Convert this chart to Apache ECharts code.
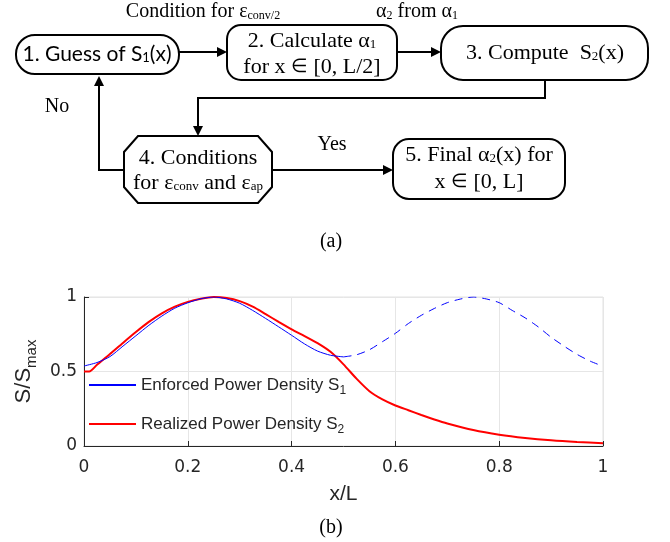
<!DOCTYPE html>
<html>
<head>
<meta charset="utf-8">
<script src="https://cdn.jsdelivr.net/npm/echarts@6/dist/echarts.min.js"></script>
<style>
html,body{margin:0;padding:0;background:#fff;}
#chart{width:670px;height:542px;}
</style>
</head>
<body>
<div id="chart"></div>
<script>
// S1: enforced power density (solid up to x/L = 0.5, dashed after)
var xS1 = [0,0.025,0.05,0.075,0.1,0.125,0.15,0.175,0.2,0.225,0.25,0.275,0.3,0.325,0.35,0.375,0.4,0.425,0.45,0.475,0.5,
           0.525,0.55,0.575,0.6,0.625,0.65,0.675,0.7,0.725,0.75,0.775,0.8,0.825,0.85,0.875,0.9,0.925,0.95,0.975,1];
var s1 = [0.537,0.56,0.60,0.67,0.74,0.81,0.872,0.925,0.961,0.988,1.0,0.987,0.958,0.91,0.856,0.80,0.743,0.685,0.637,0.609,0.598,
          0.612,0.646,0.70,0.756,0.822,0.877,0.923,0.962,0.986,1.0,0.987,0.962,0.91,0.86,0.80,0.73,0.67,0.615,0.57,0.535];
// S2: realized power density
var xS2 = [0,0.01,0.025,0.05,0.075,0.1,0.125,0.15,0.175,0.2,0.225,0.25,0.275,0.3,0.325,0.35,0.375,0.4,0.425,0.45,
           0.475,0.5,0.525,0.55,0.575,0.6,0.625,0.65,0.675,0.7,0.75,0.8,0.85,0.9,0.95,1];
var s2 = [0.5,0.5,0.545,0.617,0.692,0.765,0.833,0.89,0.935,0.967,0.988,1.0,0.993,0.972,0.935,0.885,0.833,0.783,0.738,0.69,
          0.632,0.548,0.452,0.368,0.313,0.272,0.24,0.208,0.178,0.151,0.107,0.076,0.054,0.038,0.027,0.019];
var splitX = 0.5;
var xTickStep = 0.2;
var yTickStep = 0.5;
var legendNames = ['Enforced Power Density S1', 'Realized Power Density S2'];
var legendMain = ['Enforced Power Density S', 'Realized Power Density S'];
var legendSub = ['1', '2'];

var ink = '#262626';
var serif = 'Liberation Serif';

function pairs(xs, ys, from, to) {
	var out = [];
	for (var i = 0; i < xs.length; i++) {
		if (xs[i] >= from && xs[i] <= to) out.push([xs[i], ys[i]]);
	}
	return out;
}

// ---- flowchart helpers ----
var g = [];
function box(x, y, w, h, r) {
	g.push({type:'rect', shape:{x:x, y:y, width:w, height:h, r:r},
		style:{fill:'#fff', stroke:'#000', lineWidth:2}});
}
function line(pts) {
	g.push({type:'polyline', shape:{points:pts}, style:{stroke:'#000', lineWidth:2, fill:null}});
}
function head(x, y, dir) {
	var p;
	if (dir == 'r') p = [[x,y],[x-10,y-5],[x-10,y+5]];
	else if (dir == 'd') p = [[x,y],[x-5,y-10],[x+5,y-10]];
	else p = [[x,y],[x-5,y+10],[x+5,y+10]];
	g.push({type:'polygon', shape:{points:p}, style:{fill:'#000'}});
}
var richSerif = {
	t:{fontFamily:serif, fontSize:22, lineHeight:26, textFill:'#000'},
	e:{fontFamily:serif, fontSize:19, lineHeight:26, textFill:'#000'},
	b:{fontFamily:serif, fontSize:13, lineHeight:26, padding:[7,0,0,0], textFill:'#000'},
	c:{fontFamily:serif, fontSize:20, lineHeight:24, textFill:'#000'},
	d:{fontFamily:serif, fontSize:12, lineHeight:24, padding:[7,0,0,0], textFill:'#000'},
	s:{fontFamily:'Lato', fontSize:21, lineHeight:26, textFill:'#000'},
	q:{fontFamily:'Lato', fontSize:13, lineHeight:26, padding:[7,0,0,0], textFill:'#000'}
};
function txt(x, y, s) {
	g.push({type:'text', style:{text:s, x:x, y:y, rich:richSerif, textAlign:'center', textVerticalAlign:'middle'}});
}

// boxes
box(16, 35, 163, 39, 19);
box(227, 25, 170, 55, 14);
box(441, 26, 207, 54, 22);
g.push({type:'polygon', shape:{points:[[138,136],[258,136],[272,152],[272,187],[258,203],[138,203],[124,187],[124,152]]},
	style:{fill:'#fff', stroke:'#000', lineWidth:2}});
box(393, 139, 172, 60, 16);

// connectors
line([[179,52],[218,52]]); head(227,52,'r');
line([[397,52],[432,52]]); head(441,52,'r');
line([[545,80],[545,98],[198,98],[198,127]]); head(198,136,'d');
line([[124,170],[99,170],[99,84]]); head(99,76,'u');
line([[272,170],[384,170]]); head(393,170,'r');

// texts
txt(97, 54, '{s|1. Guess of S}{q|1}{s|(x)}');
txt(312, 41, '{t|2. Calculate α}{b|1}');
txt(312, 67, '{t|for x }{e|∈}{t| [0, L/2]}');
txt(545, 53, '{t|3. Compute  S}{b|2}{t|(x)}');
txt(198, 158, '{t|4. Conditions}');
txt(198, 183, '{t|for ε}{b|conv}{t| and ε}{b|ap}');
txt(479, 155, '{t|5. Final α}{b|2}{t|(x) for}');
txt(479, 182, '{t|x }{e|∈}{t| [0, L]}');
txt(203, 12, '{c|Condition for ε}{d|conv/2}');
txt(417, 12, '{c|α}{d|2}{c| from α}{d|1}');
txt(57, 107, '{c|No}');
txt(332, 145, '{c|Yes}');
txt(331, 242, '{c|(a)}');
txt(331, 528, '{c|(b)}');

var myChart = echarts.init(document.getElementById('chart'));
var option = {
	animation: false,
	backgroundColor: '#fff',
	graphic: g,
	grid: {left: 84, top: 297, width: 519, height: 149, show: true, borderColor: '#e3e3e3', borderWidth: 1,
		containLabel: false, outerBoundsMode: 'none'},
	legend: {
		data: legendNames,
		orient: 'vertical',
		left: 88, top: 373, padding: 0,
		itemWidth: 47, itemHeight: 2, itemGap: 15,
		itemStyle: {opacity: 0},
		formatter: function(name) {
			var i = legendNames.indexOf(name);
			return '{m|' + legendMain[i] + '}{s|' + legendSub[i] + '}';
		},
		textStyle: {
			color: ink,
			rich: {
				m: {fontFamily: 'Liberation Sans', fontSize: 17, lineHeight: 20, color: ink},
				s: {fontFamily: 'Liberation Sans', fontSize: 12, lineHeight: 20, padding: [12,0,0,0], color: ink}
			}
		}
	},
	xAxis: {
		type: 'value', min: 0, max: 1, interval: xTickStep,
		name: 'x/L', nameLocation: 'middle', nameGap: 38,
		nameTextStyle: {fontFamily: 'Liberation Sans', fontSize: 21, color: ink},
		axisLine: {lineStyle: {color: ink, width: 1}},
		axisTick: {inside: true, length: 5, lineStyle: {color: ink}},
		axisLabel: {margin: 13, fontFamily: 'DejaVu Sans', fontSize: 17, color: ink},
		splitLine: {show: true, lineStyle: {color: '#e6e6e6', width: 1}}
	},
	yAxis: {
		type: 'value', min: 0, max: 1, interval: yTickStep,
		name: '{m|S/S}{s|max}', nameLocation: 'middle', nameGap: 45, nameRotate: 90,
		nameTextStyle: {
			color: ink,
			rich: {
				m: {fontFamily: 'Liberation Sans', fontSize: 22, lineHeight: 26, color: ink},
				s: {fontFamily: 'Liberation Sans', fontSize: 15, lineHeight: 26, padding: [16,0,0,0], color: ink}
			}
		},
		axisLine: {show: true, lineStyle: {color: ink, width: 1}},
		axisTick: {show: true, inside: true, length: 5, lineStyle: {color: ink}},
		axisLabel: {margin: 7, fontFamily: 'DejaVu Sans', fontSize: 17, color: ink},
		splitLine: {show: true, lineStyle: {color: '#e6e6e6', width: 1}}
	},
	series: [
		{
			name: legendNames[0], type: 'line', symbol: 'none', smooth: 0.25,
			lineStyle: {color: '#0000ff', width: 1}, itemStyle: {color: '#0000ff'},
			data: pairs(xS1, s1, 0, splitX), z: 3
		},
		{
			name: 'S1 beyond L/2', type: 'line', symbol: 'none', smooth: 0.25,
			lineStyle: {color: '#0000ff', width: 1, type: [8, 6]}, itemStyle: {color: '#0000ff'},
			data: pairs(xS1, s1, splitX, 1), z: 3
		},
		{
			name: legendNames[1], type: 'line', symbol: 'none', smooth: 0.25,
			lineStyle: {color: '#ff0000', width: 2}, itemStyle: {color: '#ff0000'},
			data: pairs(xS2, s2, 0, 1), z: 2
		}
	]
};
myChart.setOption(option);
</script>
</body>
</html>
